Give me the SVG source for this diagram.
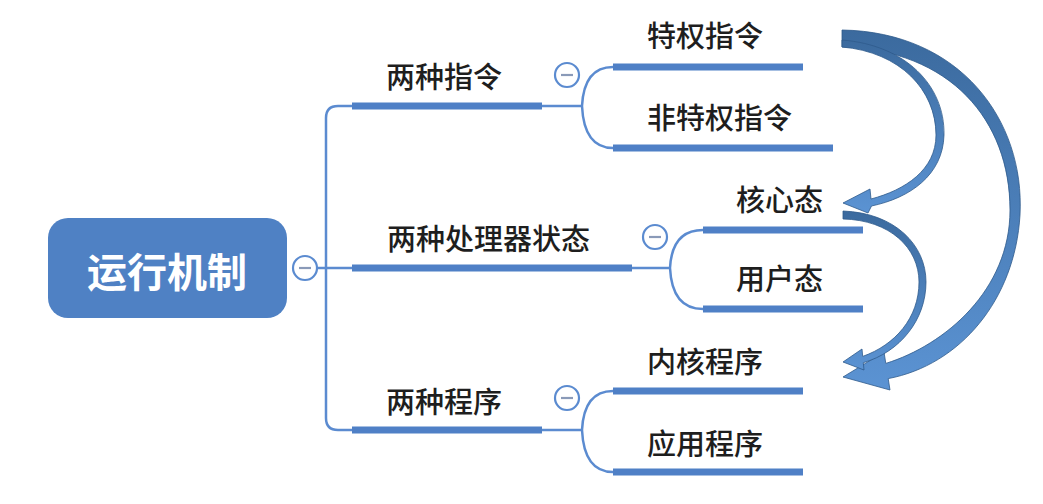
<svg xmlns="http://www.w3.org/2000/svg" width="1043" height="504" viewBox="0 0 1043 504">
<defs>
<style>
.t{font-family:"Noto Sans CJK SC","Noto Sans",sans-serif;font-size:29px;font-weight:500;fill:#1e1e1e}
.root{font-family:"Noto Sans CJK SC","Noto Sans",sans-serif;font-size:40px;font-weight:bold;fill:#ffffff}
.bar{stroke:#4f80c6;stroke-width:7;fill:none}
.ln{stroke:#5b8bd0;stroke-width:2.5;fill:none}
.cc{fill:#ffffff;stroke:#5b8bd0;stroke-width:2.2}
.mn{stroke:#8a9ab8;stroke-width:2.2}
.arr{stroke:#2e5a8c;stroke-width:0.8}
</style>
<linearGradient id="ag" x1="0" y1="0" x2="0" y2="1">
<stop offset="0" stop-color="#3b6a9e"/>
<stop offset="1" stop-color="#5b93d3"/>
</linearGradient>
</defs>
<rect width="1043" height="504" fill="#ffffff"/>

<g id="connectors">
<path class="ln" d="M352 106 H338 Q326 106 326 118 V418 Q326 430 338 430 H352"/>
<path class="ln" d="M317 268 H352"/>
<path class="ln" d="M541 106 H582 M582 106 Q584 67 613 67 M582 106 Q584 148 613 148"/>
<path class="ln" d="M632 268 H670 M670 268 Q672 230 703 230 M670 268 Q672 309 703 309"/>
<path class="ln" d="M541 430 H582 M582 430 Q584 391 613 391 M582 430 Q584 472 613 472"/>
<line class="bar" x1="352" y1="106" x2="542" y2="106"/>
<line class="bar" x1="352" y1="268" x2="632" y2="268"/>
<line class="bar" x1="352" y1="430" x2="542" y2="430"/>
<line class="bar" x1="613" y1="67" x2="803" y2="67"/>
<line class="bar" x1="613" y1="148" x2="833" y2="148"/>
<line class="bar" x1="703" y1="230" x2="863" y2="230"/>
<line class="bar" x1="703" y1="309" x2="863" y2="309"/>
<line class="bar" x1="613" y1="391" x2="803" y2="391"/>
<line class="bar" x1="613" y1="472" x2="803" y2="472"/>
</g>

<g id="root">
<rect x="48" y="218" width="239" height="100" rx="20" fill="#4f81c4"/>
<text class="root" x="167" y="287" text-anchor="middle">运行机制</text>
<circle class="cc" cx="305" cy="268" r="12"/>
<line class="mn" x1="299" y1="268" x2="311" y2="268"/>
</g>

<g id="n-instr">
<text class="t" x="386" y="88">两种指令</text>
<circle class="cc" cx="567" cy="75" r="12"/>
<line class="mn" x1="561" y1="75" x2="573" y2="75"/>
</g>
<g id="n-priv"><text class="t" x="647" y="47">特权指令</text></g>
<g id="n-nonpriv"><text class="t" x="647" y="129">非特权指令</text></g>

<g id="n-state">
<text class="t" x="387" y="250">两种处理器状态</text>
<circle class="cc" cx="655" cy="237" r="12"/>
<line class="mn" x1="649" y1="237" x2="661" y2="237"/>
</g>
<g id="n-kernel-state"><text class="t" x="736" y="211">核心态</text></g>
<g id="n-user-state"><text class="t" x="736" y="290">用户态</text></g>

<g id="n-prog">
<text class="t" x="386" y="413">两种程序</text>
<circle class="cc" cx="567" cy="398" r="12"/>
<line class="mn" x1="561" y1="398" x2="573" y2="398"/>
</g>
<g id="n-kernel-prog"><text class="t" x="647" y="373">内核程序</text></g>
<g id="n-app-prog"><text class="t" x="647" y="455">应用程序</text></g>

<g id="arrows">
<path class="arr" fill="url(#ag)" d="M842 30 C960 32 1025 120 1020 215 C1015 300 960 365 888.2 378.6 L890 390 L843 377 L884 352 L885.8 363.4 C945 345 1010 290 1010 210 C1010 120 950 50 842 47 Z"/>
<path class="arr" fill="url(#ag)" d="M842 40 C905 45 945 85 944 135 C943 175 910 198 871.5 206 L868 213 L843 203 L870 189 L871 199 C905 190 936 170 936 135 C936 90 900 52 842 47 Z"/>
<path class="arr" fill="url(#ag)" d="M843 211 C895 213 926 245 926 282 C926 320 900 352 863.3 362.7 L864 370 L843 362 L862 349 L862.7 356.4 C895 345 919 318 919 282 C919 248 890 220 843 219 Z"/>
</g>
</svg>
